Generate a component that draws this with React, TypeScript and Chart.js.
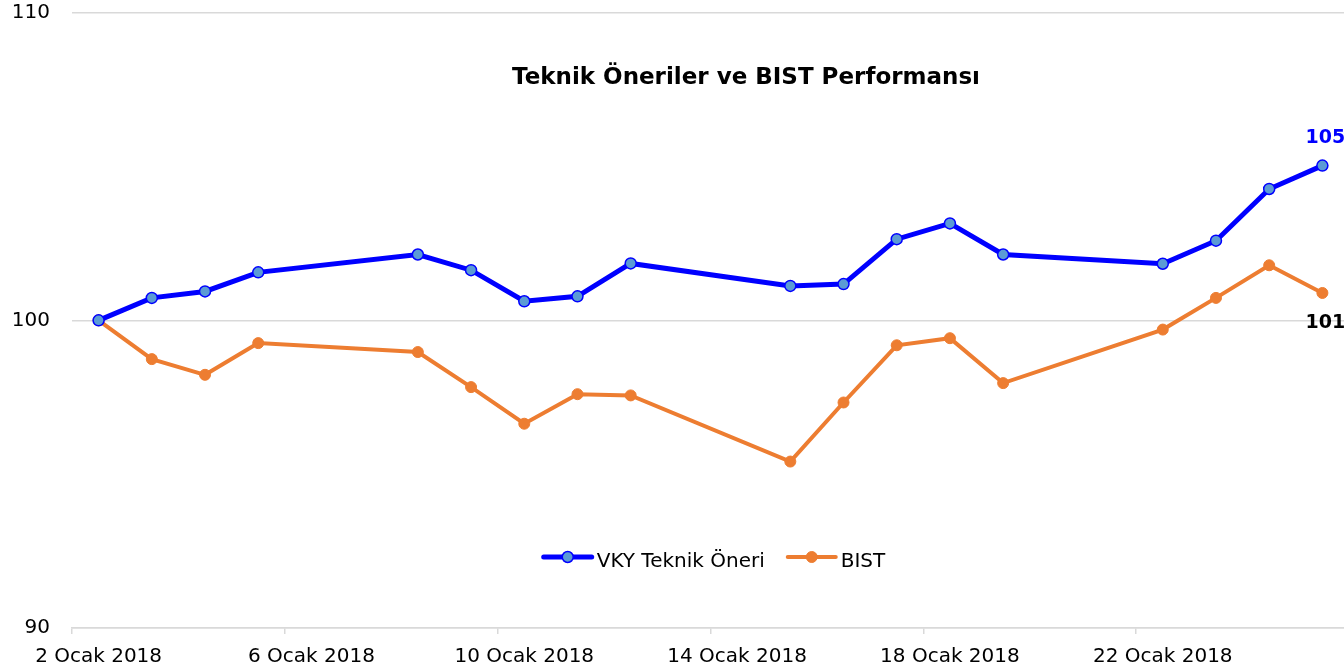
import React, { useEffect, useRef } from 'react';
import { Chart, registerables } from 'chart.js';

Chart.register(...registerables);

const chartTitle = 'Teknik Öneriler ve BIST Performansı';
const dates = [
  '2018-01-02', '2018-01-03', '2018-01-04', '2018-01-05', '2018-01-08', '2018-01-09',
  '2018-01-10', '2018-01-11', '2018-01-12', '2018-01-15', '2018-01-16', '2018-01-17',
  '2018-01-18', '2018-01-19', '2018-01-22', '2018-01-23', '2018-01-24', '2018-01-25',
];
const vkyLabel = 'VKY Teknik Öneri';
const vkyValues = [100, 100.73, 100.94, 101.56, 102.14, 101.63, 100.62, 100.78, 101.85, 101.12, 101.18, 102.64, 103.15, 102.14, 101.84, 102.59, 104.27, 105.03];
const bistLabel = 'BIST';
const bistValues = [100, 98.74, 98.23, 99.26, 98.97, 97.83, 96.64, 97.6, 97.56, 95.41, 97.33, 99.19, 99.42, 97.96, 99.7, 100.73, 101.79, 100.89];
const axisStart = '2018-01-02';
const axisEnd = '2018-01-26';
const xTickDates = ['2018-01-02', '2018-01-06', '2018-01-10', '2018-01-14', '2018-01-18', '2018-01-22'];
const xTickLabels = ['2 Ocak 2018', '6 Ocak 2018', '10 Ocak 2018', '14 Ocak 2018', '18 Ocak 2018', '22 Ocak 2018'];
const yTicks = [90, 100, 110];

const DAY = 86400000;
const dayOffset = (d: string) => (Date.parse(d) - Date.parse(axisStart)) / DAY;

const FONT = "'DejaVu Sans', sans-serif";

const overlayPlugin = {
  id: 'overlay',
  afterDatasetsDraw(chart: any) {
    const ctx = chart.ctx as CanvasRenderingContext2D;
    ctx.save();
    // title
    ctx.fillStyle = '#000';
    ctx.font = `bold 23px ${FONT}`;
    ctx.textAlign = 'center';
    ctx.textBaseline = 'alphabetic';
    ctx.fillText(chartTitle, 746, 84);

    // legend
    ctx.font = `20px ${FONT}`;
    const ds = chart.data.datasets;
    const lineLen = 48;
    const gapText = 5;
    const gapItem = 23;
    let total = 0;
    ds.forEach((d: any, i: number) => {
      total += lineLen + gapText + ctx.measureText(d.label).width + (i < ds.length - 1 ? gapItem : 0);
    });
    let x = 714.5 - total / 2;
    const ly = 557;
    ds.forEach((d: any) => {
      ctx.strokeStyle = d.borderColor;
      ctx.lineWidth = d.borderWidth;
      ctx.lineCap = 'round';
      ctx.beginPath();
      ctx.moveTo(x, ly);
      ctx.lineTo(x + lineLen, ly);
      ctx.stroke();
      ctx.beginPath();
      ctx.arc(x + lineLen / 2, ly, d.pointRadius, 0, Math.PI * 2);
      ctx.fillStyle = d.pointBackgroundColor;
      ctx.fill();
      ctx.lineWidth = d.pointBorderWidth;
      ctx.strokeStyle = d.pointBorderColor;
      ctx.stroke();
      ctx.fillStyle = '#000';
      ctx.textAlign = 'left';
      ctx.textBaseline = 'alphabetic';
      ctx.fillText(d.label, x + lineLen + gapText, ly + 9.5);
      x += lineLen + gapText + ctx.measureText(d.label).width + gapItem;
    });

    // last value labels
    ctx.font = `bold 19px ${FONT}`;
    ctx.textAlign = 'center';
    ctx.textBaseline = 'middle';
    ds.forEach((d: any, i: number) => {
      const meta = chart.getDatasetMeta(i);
      const last = meta.data[meta.data.length - 1];
      const val = d.data[d.data.length - 1].y;
      ctx.fillStyle = d.valueLabelColor;
      const dy = d.valueLabelBelow ? 30 : -28;
      ctx.fillText(String(Math.round(val)), last.x + 3, last.y + dy);
    });
    ctx.restore();
  },
};

export default function App() {
  const ref = useRef<HTMLCanvasElement>(null);
  useEffect(() => {
    if (!ref.current) return;
    Chart.defaults.font.family = FONT;
    Chart.defaults.color = '#000';
    const toPoints = (vals: number[]) => vals.map((v, i) => ({ x: dayOffset(dates[i]) + 0.5, y: v }));
    const tickVals = xTickDates.map(dayOffset);
    const chart = new Chart(ref.current, {
      type: 'line',
      data: {
        datasets: [
          {
            label: vkyLabel,
            data: toPoints(vkyValues),
            borderColor: '#0000FF',
            borderWidth: 5,
            pointRadius: 5.5,
            pointBackgroundColor: '#5B9BD5',
            pointBorderColor: '#0000FF',
            pointBorderWidth: 1.5,
            tension: 0,
            valueLabelColor: '#0000FF',
            valueLabelBelow: false,
          } as any,
          {
            label: bistLabel,
            data: toPoints(bistValues),
            borderColor: '#ED7D31',
            borderWidth: 4,
            pointRadius: 5.5,
            pointBackgroundColor: '#ED7D31',
            pointBorderColor: '#ED7D31',
            pointBorderWidth: 1,
            tension: 0,
            valueLabelColor: '#000000',
            valueLabelBelow: true,
          } as any,
        ],
      },
      options: {
        responsive: false,
        animation: false,
        devicePixelRatio: 1,
        layout: { padding: { top: 0, left: 0, right: 0, bottom: 0 } },
        plugins: {
          legend: { display: false },
          title: { display: false },
          tooltip: { enabled: false },
        },
        scales: {
          x: {
            type: 'linear',
            min: 0,
            max: dayOffset(axisEnd),
            afterBuildTicks: (scale: any) => {
              scale.ticks = tickVals.map((v) => ({ value: v }));
            },
            afterFit: (scale: any) => {
              scale.height = 44;
              scale.paddingLeft = 0;
              scale.paddingRight = 0;
            },
            grid: {
              drawOnChartArea: false,
              drawTicks: true,
              tickLength: 6,
              color: '#d9d9d9',
              lineWidth: 1.5,
            },
            border: { display: true, color: '#d9d9d9', width: 1.5 },
            ticks: {
              autoSkip: false,
              maxRotation: 0,
              labelOffset: 26.6,
              padding: 11,
              font: { size: 20 },
              color: '#000',
              callback: (v: any) => {
                const idx = tickVals.indexOf(Number(v));
                return idx >= 0 ? xTickLabels[idx] : '';
              },
            },
          },
          y: {
            min: yTicks[0],
            max: yTicks[yTicks.length - 1],
            afterBuildTicks: (scale: any) => {
              scale.ticks = yTicks.map((v) => ({ value: v }));
            },
            afterFit: (scale: any) => {
              scale.width = 72;
              scale.paddingTop = 12.7;
              scale.paddingBottom = 12;
            },
            grid: {
              drawTicks: false,
              color: '#d9d9d9',
              lineWidth: 1.5,
            },
            border: { display: false },
            ticks: {
              padding: 22,
              font: { size: 20 },
              color: '#000',
            },
          },
        },
      } as any,
      plugins: [overlayPlugin],
    });
    return () => chart.destroy();
  }, []);
  return (
    <div style={{ position: 'fixed', left: 0, top: 0, width: 1344, height: 672, overflow: 'hidden', background: '#fff' }}>
      <canvas ref={ref} width={1356} height={672} style={{ display: 'block' }} />
    </div>
  );
}
